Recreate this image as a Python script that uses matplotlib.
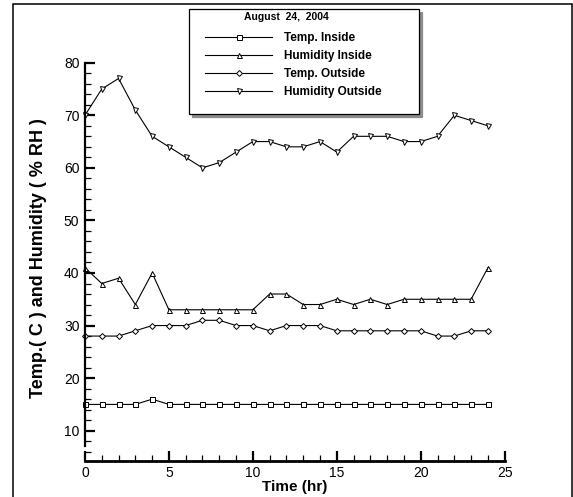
import matplotlib
matplotlib.use("Agg")
import matplotlib.pyplot as plt
from matplotlib.patches import Rectangle
from matplotlib.ticker import MultipleLocator

plt.rcParams['font.family'] = ['Liberation Sans', 'DejaVu Sans']

hours = list(range(25))
temp_inside = [15, 15, 15, 15, 16, 15, 15, 15, 15, 15, 15, 15, 15,
               15, 15, 15, 15, 15, 15, 15, 15, 15, 15, 15, 15]
humidity_inside = [41, 38, 39, 34, 40, 33, 33, 33, 33, 33, 33, 36, 36,
                   34, 34, 35, 34, 35, 34, 35, 35, 35, 35, 35, 41]
temp_outside = [28, 28, 28, 29, 30, 30, 30, 31, 31, 30, 30, 29, 30,
                30, 30, 29, 29, 29, 29, 29, 29, 28, 28, 29, 29]
humidity_outside = [70, 75, 77, 71, 66, 64, 62, 60, 61, 63, 65, 65, 64,
                    64, 65, 63, 66, 66, 66, 65, 65, 66, 70, 69, 68]

series = [
    ("Temp. Inside", temp_inside, "s"),
    ("Humidity Inside", humidity_inside, "^"),
    ("Temp. Outside", temp_outside, "D"),
    ("Humidity Outside", humidity_outside, "v"),
]

fig = plt.figure(figsize=(5.73, 4.97), dpi=100)
ax = fig.add_axes([0.1483, 0.0724, 0.7325, 0.8014])

for label, values, marker in series:
    ms = 3.0 if marker == "D" else 3.6
    ax.plot(hours, values, color="black", lw=0.8, marker=marker, ms=ms,
            mfc="white", mec="black", mew=0.7, label=label, clip_on=False)

ax.set_xlim(0, 25)
ax.set_ylim(4.23, 80)
for side in ["top", "right"]:
    ax.spines[side].set_visible(False)
ax.spines["left"].set_bounds(7, 80)
ax.spines["left"].set_linewidth(1.6)
ax.spines["bottom"].set_linewidth(2.0)

ax.xaxis.set_major_locator(MultipleLocator(5))
ax.xaxis.set_minor_locator(MultipleLocator(1))
ax.yaxis.set_major_locator(MultipleLocator(10))
ax.yaxis.set_minor_locator(MultipleLocator(2))
ax.set_yticks(range(10, 81, 10))
ax.tick_params(which="major", direction="in", length=7.5, width=1.6,
               labelsize=10, pad=4)
ax.tick_params(which="minor", direction="in", length=4, width=0.9)
ax.tick_params(axis="x", which="major", pad=3.5)

ax.set_xlabel("Time (hr)", fontsize=11, fontweight="bold", labelpad=0)
ax.set_ylabel("Temp.( C ) and Humidity ( % RH )", fontsize=13,
              fontweight="bold")
ax.yaxis.set_label_coords(-0.09, 0.51)

# legend box spans x 189..419 px, y 9..115 px of the picture
leg = ax.legend(loc="upper left",
                bbox_to_anchor=(189 / 573, 1 - 115 / 497, 230 / 573, 106 / 497),
                bbox_transform=fig.transFigure, mode="expand",
                prop={"weight": "bold", "size": 8.5}, title=" ",
                title_fontsize=0.2, frameon=True, fancybox=False,
                edgecolor="black", framealpha=1, borderpad=1.35,
                handlelength=5.7, handletextpad=1.0, labelspacing=0.52,
                borderaxespad=0, shadow={"color": "0.55", "alpha": 1})
leg.get_frame().set_linewidth(0.9)
fig.text(286 / 573, 1 - 16.7 / 497, "August  24,  2004", fontsize=7.5,
         fontweight="bold", ha="center", va="center")

fig.patches.append(Rectangle((0.0222, -0.02), 0.9755, 1.0126,
                             transform=fig.transFigure, fill=False,
                             edgecolor="black", lw=1.1))

fig.savefig("out.png", dpi=100)
